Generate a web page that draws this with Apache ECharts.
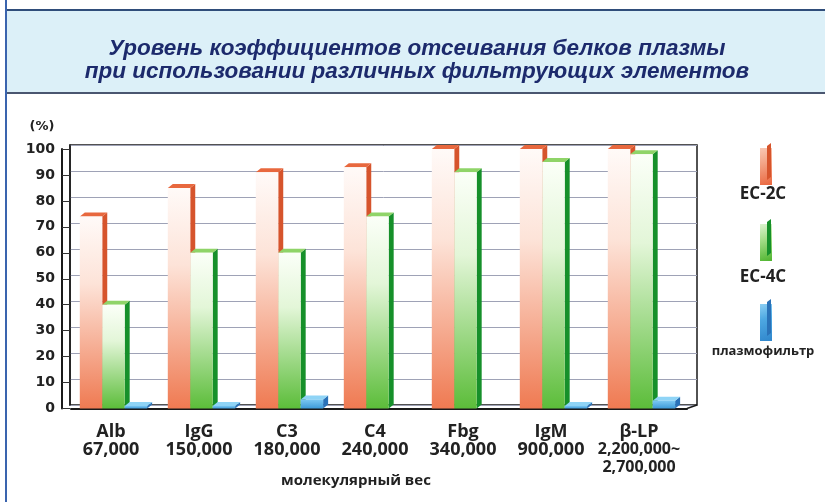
<!DOCTYPE html>
<html>
<head>
<meta charset="utf-8">
<script src="https://cdn.jsdelivr.net/npm/echarts@6/dist/echarts.min.js"></script>
<style>
html,body{margin:0;padding:0;background:#ffffff;}
#chart{width:825px;height:502px;}
</style>
</head>
<body>
<div id="chart"></div>
<script>
// ---- data ----
const proteins = ['Alb', 'IgG', 'C3', 'C4', 'Fbg', 'IgM', 'β-LP'];
const weights = ['67,000', '150,000', '180,000', '240,000', '340,000', '900,000', '2,200,000~\n2,700,000'];
const seriesNames = ['EC-2C', 'EC-4C', 'плазмофильтр'];
const ec2c = [74, 85, 91, 93, 100, 100, 100];
const ec4c = [40, 60, 60, 74, 91, 95, 98];
const plasma = [1, 1, 3.5, 0, 0, 1, 3];
const yTicks = [0, 10, 20, 30, 40, 50, 60, 70, 80, 90, 100];

const titleText = 'Уровень коэффициентов отсеивания белков плазмы\nпри использовании различных фильтрующих элементов';
const xName = 'молекулярный вес';
const yName = '(%)';

const categories = proteins.map((p, i) => p + '\n' + weights[i]);

const G = echarts.graphic;
function vgrad(top, bottom) {
  return new G.LinearGradient(0, 0, 0, 1, [
    { offset: 0, color: top[0] },
    { offset: 0.35, color: top[1] },
    { offset: 1, color: bottom }
  ]);
}
const styles = [
  { front: () => vgrad(['#fffaf8', '#fde3d8'], '#ef7a52'), side: '#d6542c', cap: '#e8683e', solid: '#ef7a52',
    legend: () => new G.LinearGradient(0, 0, 1, 1, [{ offset: 0, color: '#f9c8b4' }, { offset: 0.4, color: '#f3a486' }, { offset: 1, color: '#ea663e' }]) },
  { front: () => vgrad(['#fbfff8', '#e3f6d8'], '#5cbd3a'), side: '#16902a', cap: '#8fd468', solid: '#5cbd3a',
    legend: () => new G.LinearGradient(0, 0, 1, 1, [{ offset: 0, color: '#dcf3d0' }, { offset: 0.4, color: '#a6de8a' }, { offset: 1, color: '#4eb42e' }]) },
  { front: () => new G.LinearGradient(0, 0, 0, 1, [{ offset: 0, color: '#7cc8f2' }, { offset: 1, color: '#3d9ad8' }]), side: '#2a72b8', cap: '#8fd4f6', solid: '#3d9ad8',
    legend: () => new G.LinearGradient(0, 0, 1, 1, [{ offset: 0, color: '#8ccff4' }, { offset: 0.4, color: '#4ea8e2' }, { offset: 1, color: '#2f86cc' }]) }
];

function make3D(k) {
  const st = styles[k];
  return function (params, api) {
    const i = api.value(0), v = api.value(1);
    if (!(v > 0)) return null;
    const top = api.coord([i, v]);
    const base = api.coord([i, 0]);
    const bw = api.size([1, 0])[0];
    const w = bw * 0.255;
    const left = top[0] - bw * 0.40 + k * w;
    const dx = 5, dy = 4;
    const y1 = top[1], y0 = base[1];
    return {
      type: 'group',
      children: [
        { type: 'polygon', shape: { points: [[left + w, y1], [left + w + dx, y1 - dy], [left + w + dx, y0 - dy], [left + w, y0]] }, style: { fill: st.side } },
        { type: 'polygon', shape: { points: [[left, y1], [left + dx, y1 - dy], [left + w + dx, y1 - dy], [left + w, y1]] }, style: { fill: st.cap } },
        { type: 'rect', shape: { x: left, y: y1, width: w, height: y0 - y1 }, style: { fill: st.front() } }
      ]
    };
  };
}

const seriesData = [ec2c, ec4c, plasma];

const chart = echarts.init(document.getElementById('chart'), null, { renderer: 'canvas' });

const legendTops = [143, 219, 299];
const legendLabelY = [194, 277, 351];
const labelFont = 'Open Sans, sans-serif';

const option = {
  backgroundColor: '#ffffff',
  animation: false,
  title: {
    text: titleText,
    left: 412,
    textAlign: 'center',
    top: 32,
    textStyle: {
      fontFamily: 'Liberation Sans, Arial, sans-serif',
      fontStyle: 'italic',
      fontWeight: 'bold',
      fontSize: 22.5,
      lineHeight: 23,
      color: '#1c2a6c'
    }
  },
  legend: seriesNames.map((n, k) => ({
    data: [{ name: n, itemStyle: { color: styles[k].legend() } }],
    left: 755,
    top: legendTops[k],
    orient: 'vertical',
    icon: 'rect',
    itemWidth: 12,
    itemHeight: 37,
    selectedMode: false,
    formatter: () => '',
    textStyle: { fontSize: 1 }
  })),
  grid: [
    { left: 70, right: 128, top: 145, bottom: 97, show: true, borderColor: '#1a1a1a', borderWidth: 1.5, backgroundColor: 'transparent' },
    { left: 71, right: 138, top: 149, bottom: 93.5 }
  ],
  xAxis: [
    { gridIndex: 0, type: 'category', data: categories, show: false },
    {
      gridIndex: 1, type: 'category', data: categories,
      axisLine: { show: true, lineStyle: { color: '#1a1a1a', width: 2 } },
      axisTick: { show: false },
      axisLabel: {
        interval: 0,
        margin: 14,
        padding: [0, 8, 0, 0],
        fontFamily: labelFont,
        fontWeight: 'bold',
        fontSize: 18,
        lineHeight: 18,
        color: '#222222',
        formatter: function (value, index) {
          const w = weights[index];
          if (w.indexOf('\n') >= 0) {
            return proteins[index] + '\n' + w.split('\n').map(s => '{s|' + s + '}').join('\n');
          }
          return value;
        },
        rich: {
          s: { fontFamily: labelFont, fontWeight: 'bold', fontSize: 16, lineHeight: 18, color: '#222222' }
        }
      },
      name: xName,
      nameLocation: 'middle',
      nameGap: 65,
      nameMoveOverlap: false,
      nameTextStyle: {
        fontFamily: labelFont,
        fontWeight: 'bold',
        fontSize: 15,
        color: '#222222',
        padding: [0, 46, 0, 0]
      }
    }
  ],
  yAxis: [
    {
      gridIndex: 0, type: 'value', min: 0, max: 100, interval: 10,
      axisLabel: { show: false }, axisTick: { show: false },
      axisLine: { show: true, lineStyle: { color: '#1a1a1a', width: 1.5 } },
      splitLine: { show: true, lineStyle: { color: '#9ea2b6', width: 1 } }
    },
    {
      gridIndex: 1, type: 'value', min: 0, max: 100, interval: 10,
      offset: 9,
      axisLine: { show: true, lineStyle: { color: '#1a1a1a', width: 2 } },
      axisTick: { show: true, inside: true, length: 8, lineStyle: { color: '#333333', width: 1 } },
      splitLine: { show: false },
      axisLabel: {
        margin: 7,
        fontFamily: 'DejaVu Sans, sans-serif',
        fontWeight: 'bold',
        fontSize: 14,
        color: '#222222'
      },
      name: yName,
      nameLocation: 'end',
      nameGap: 16,
      nameMoveOverlap: false,
      nameTextStyle: {
        fontFamily: 'DejaVu Sans, sans-serif',
        fontWeight: 'bold',
        fontSize: 13,
        color: '#222222',
        align: 'center',
        padding: [0, 40, 0, 0]
      }
    }
  ],
  series: seriesData.map((d, k) => ({
    name: seriesNames[k],
    type: 'custom',
    xAxisIndex: 1,
    yAxisIndex: 1,
    itemStyle: { color: styles[k].solid },
    renderItem: make3D(k),
    encode: { x: 0, y: 1 },
    data: d.map((v, i) => [i, v]),
    z: 5 + k
  })),
  graphic: [
    { type: 'rect', z: -10, shape: { x: 5, y: 10, width: 830, height: 83 }, style: { fill: '#dcf0f8' } },
    { type: 'line', z: -9, shape: { x1: 5, y1: 10, x2: 825, y2: 10 }, style: { stroke: '#2f4d7a', lineWidth: 2 } },
    { type: 'line', z: -9, shape: { x1: 5, y1: 93, x2: 825, y2: 93 }, style: { stroke: '#4a5670', lineWidth: 2 } },
    { type: 'line', z: -9, shape: { x1: 6, y1: 0, x2: 6, y2: 502 }, style: { stroke: '#3a64ae', lineWidth: 2 } },
    { type: 'line', z: 20, shape: { x1: 687, y1: 408.5, x2: 697, y2: 405 }, style: { stroke: '#1a1a1a', lineWidth: 1.5 } }
  ].concat(seriesNames.map((n, k) => ({
    type: 'polygon', z: 20,
    shape: { points: [[767, legendTops[k] + 3], [771, legendTops[k]], [771, legendTops[k] + 34], [767, legendTops[k] + 37]] },
    style: { fill: styles[k].side }
  }))).concat(seriesNames.map((n, k) => ({
    type: 'text', z: 20,
    x: 763, y: legendLabelY[k],
    style: {
      text: n,
      align: 'center', verticalAlign: 'middle',
      fontFamily: labelFont,
      fontWeight: 'bold',
      fontSize: k === 2 ? 13 : 17,
      fill: '#222222'
    }
  })))
};

chart.setOption(option);
</script>
</body>
</html>
